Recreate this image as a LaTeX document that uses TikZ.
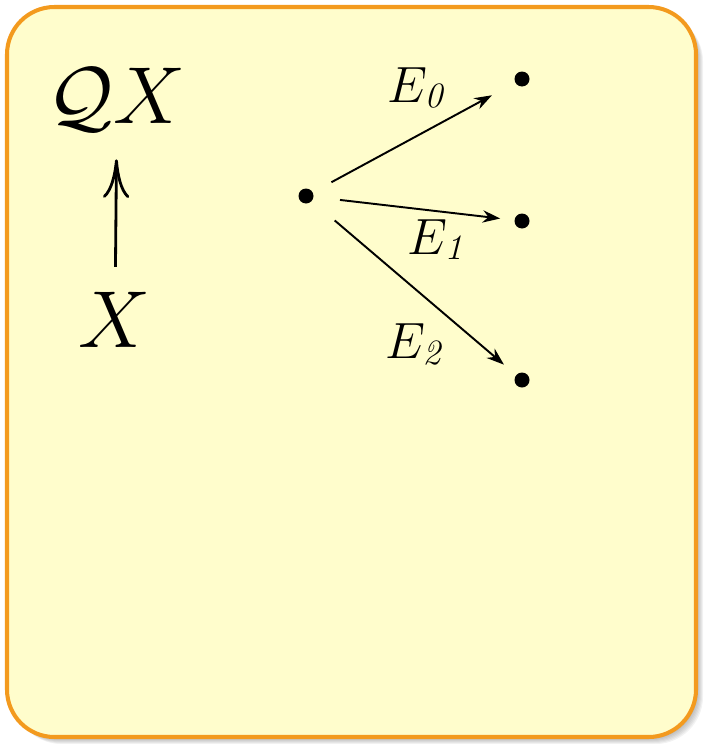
\RequirePackage{fix-cm}
\documentclass[tikz,border=0pt]{standalone}
\usetikzlibrary{arrows.meta,positioning}
\definecolor{NoteFill}{HTML}{FFFDCC}
\definecolor{NoteEdge}{HTML}{F39A1E}
\definecolor{NoteShade}{HTML}{4A4A4A}
\newcommand{\emap}[1]{$E_{\raisebox{2pt}{$\scriptstyle\mathit{#1}$}}$}
\tikzset{
  every node/.style={text=black},
  obj/.style={font=\fontsize{46}{50}\selectfont, inner sep=0pt},
  lbl/.style={font=\fontsize{29}{32}\selectfont, inner sep=2pt},
  dot/.style={circle, fill=black, inner sep=0pt, minimum size=0.3cm},
  lift/.style={-{Computer Modern Rightarrow[length=22pt,width=15pt]}, line width=1.6pt},
  morph/.style={-{Stealth[length=10pt,width=7pt]}, line width=1.1pt},
}

\begin{document}
\begin{tikzpicture}[x=0.02cm,y=-0.02cm]
  \useasboundingbox (0,0) rectangle (705,744);
  % Shadow
  \foreach \k in {1,...,7}
    \fill[NoteShade, opacity=0.07, rounded corners=27pt] (7+\k,7+\k) rectangle (696+\k,737+\k);
  % Note card
  \draw[draw=NoteEdge, fill=NoteFill, line width=2.3pt, rounded corners=27pt] (7,7) rectangle (696,737);
  % Left column
  \node[obj, anchor=base] (qx) at (117,123) {$\mathcal{Q}X$};
  \node[obj, anchor=base] (x) at (115,347) {$X$};
  \draw[lift, shorten <=14pt, shorten >=16pt] (x) -- (qx);
  % Fan of maps
  \node[dot] (src) at (306,196) {};
  \node[dot] (tgt0) at (522,79) {};
  \node[dot] (tgt1) at (522,221) {};
  \node[dot] (tgt2) at (522,380) {};
  \draw[morph, shorten <=12pt, shorten >=15pt] (src) -- node[lbl, pos=0.52, above=11pt] {\emap{0}} (tgt0);
  \draw[morph, shorten <=15pt, shorten >=8pt] (src) -- node[lbl, pos=0.62, below=2pt] {\emap{1}} (tgt1);
  \draw[morph, shorten <=17pt, shorten >=9pt] (src) -- node[lbl, pos=0.68, below left=0pt] {\emap{2}} (tgt2);
\end{tikzpicture}
\end{document}
